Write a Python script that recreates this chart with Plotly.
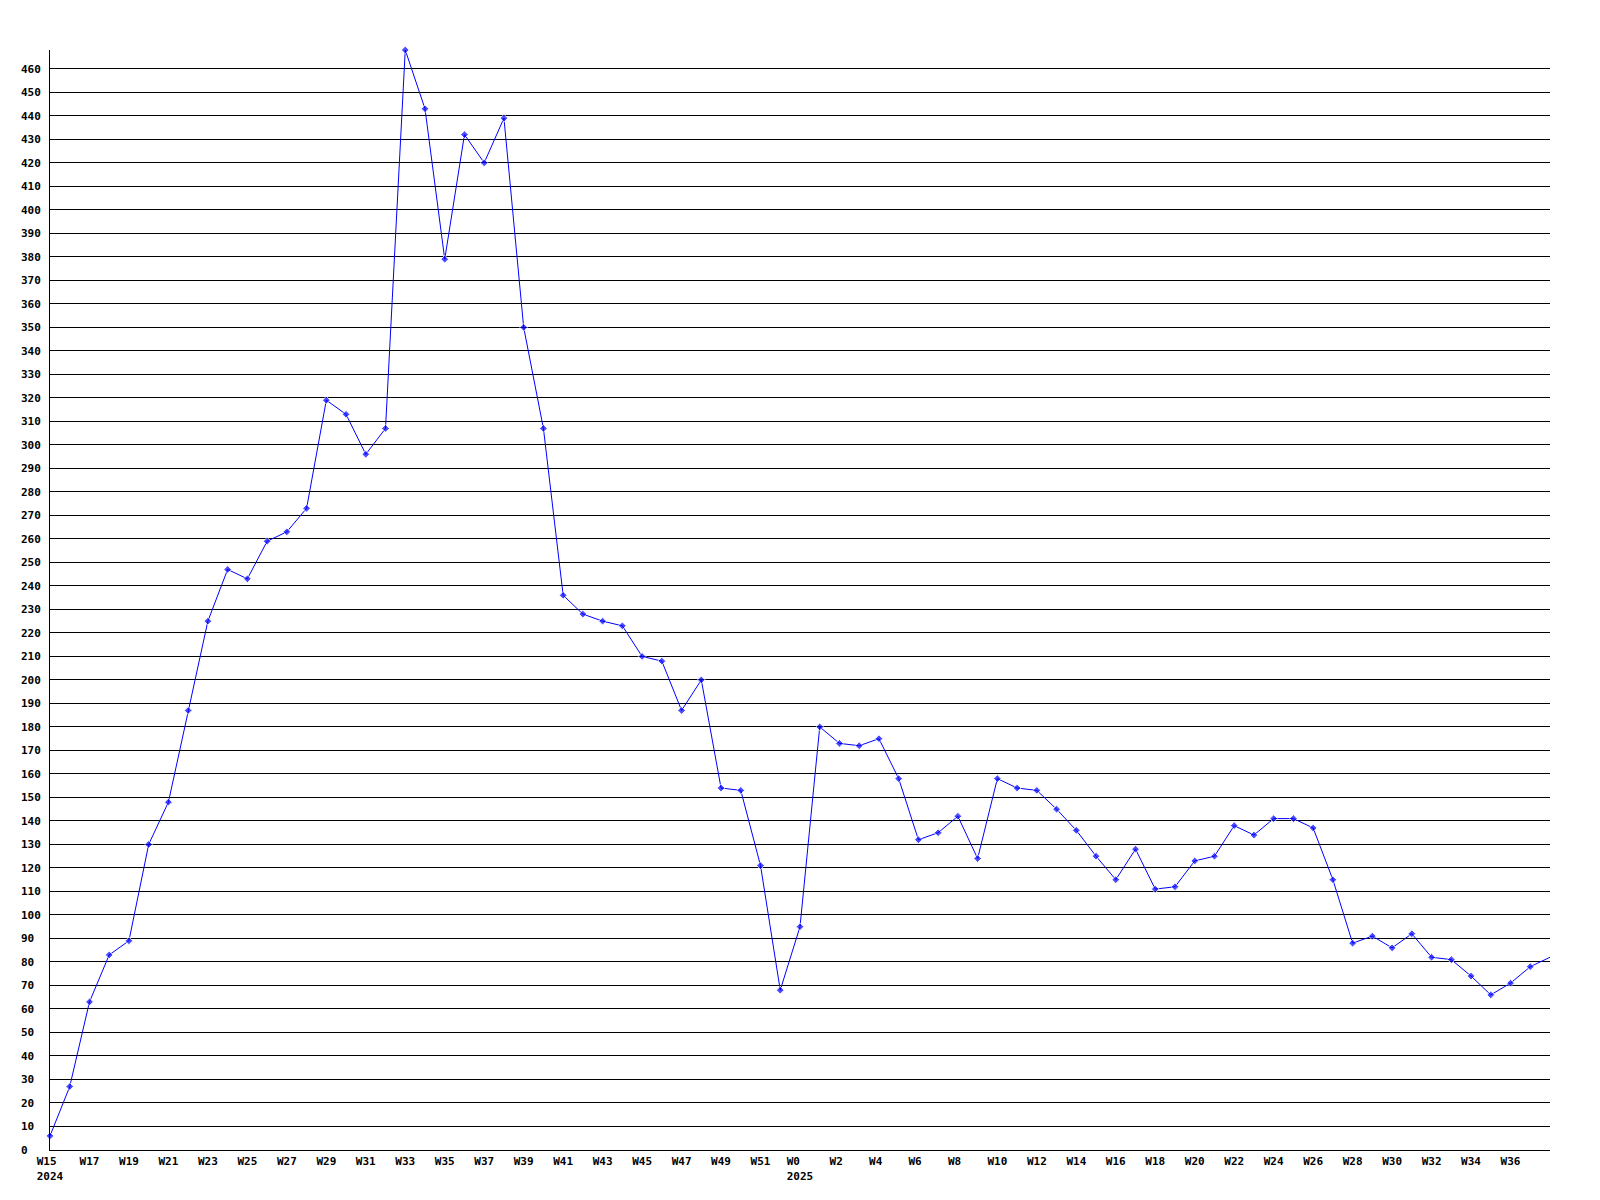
import plotly.graph_objects as go

# Week numbers and years
weeks_2024 = list(range(15, 53))
weeks_2025 = list(range(0, 39))

values_2024 = [6, 27, 63, 83, 89, 130, 148, 187, 225, 247, 243, 259, 263, 273,
               319, 313, 296, 307, 468, 443, 379, 432, 420, 439, 350, 307, 236,
               228, 225, 223, 210, 208, 187, 200, 154, 153, 121, 68]
values_2025 = [95, 180, 173, 172, 175, 158, 132, 135, 142, 124, 158, 154, 153,
               145, 136, 125, 115, 128, 111, 112, 123, 125, 138, 134, 141, 141,
               137, 115, 88, 91, 86, 92, 82, 81, 74, 66, 71, 78, 82]

y_tick_values = list(range(0, 461, 10))

NB = "\u00a0"

labels = [f"W{w}" for w in weeks_2024] + [f"W{w}" for w in weeks_2025]
years = ["2024"] + [""] * (len(weeks_2024) - 1) + ["2025"] + [""] * (len(weeks_2025) - 1)
values = values_2024 + values_2025
x = list(range(len(values)))

tickvals = []
ticktext = []
for i, (lab, yr) in enumerate(zip(labels, years)):
    if i % 2 == 0 and i <= 74:
        t = lab
        if yr:
            t = t.ljust(4, NB) + "<br>" + yr
        else:
            t = t.ljust(3, NB)
        tickvals.append(i)
        ticktext.append(t)

ytext = [str(v).ljust(3, NB) for v in y_tick_values]

marker_sizes = [6] * (len(values) - 1) + [0]

fig = go.Figure()
fig.add_trace(go.Scatter(
    x=x, y=values, mode="lines+markers",
    line=dict(color="#0000ff", width=1),
    marker=dict(symbol="diamond", size=marker_sizes, color="#0000ff"),
    cliponaxis=False,
    hoverinfo="skip",
))

font = dict(family="DejaVu Sans Mono", size=11, color="black", weight="bold")

fig.update_layout(
    width=1600, height=1200,
    margin=dict(l=42, r=58, t=42, b=58),
    paper_bgcolor="white", plot_bgcolor="white",
    showlegend=False,
    xaxis=dict(
        range=[0, 76], tickvals=tickvals, ticktext=ticktext,
        showgrid=False, zeroline=False, showline=True, linecolor="black",
        linewidth=1, ticks="", tickfont=font, ticklabelstandoff=1,
        fixedrange=True,
    ),
    yaxis=dict(
        range=[0, 468], tickvals=y_tick_values, ticktext=ytext,
        showgrid=True, gridcolor="black", gridwidth=1,
        zeroline=False, showline=True, linecolor="black", linewidth=1,
        ticks="", tickfont=font, ticklabelstandoff=6,
        fixedrange=True,
    ),
)

fig.write_html("out.html")
